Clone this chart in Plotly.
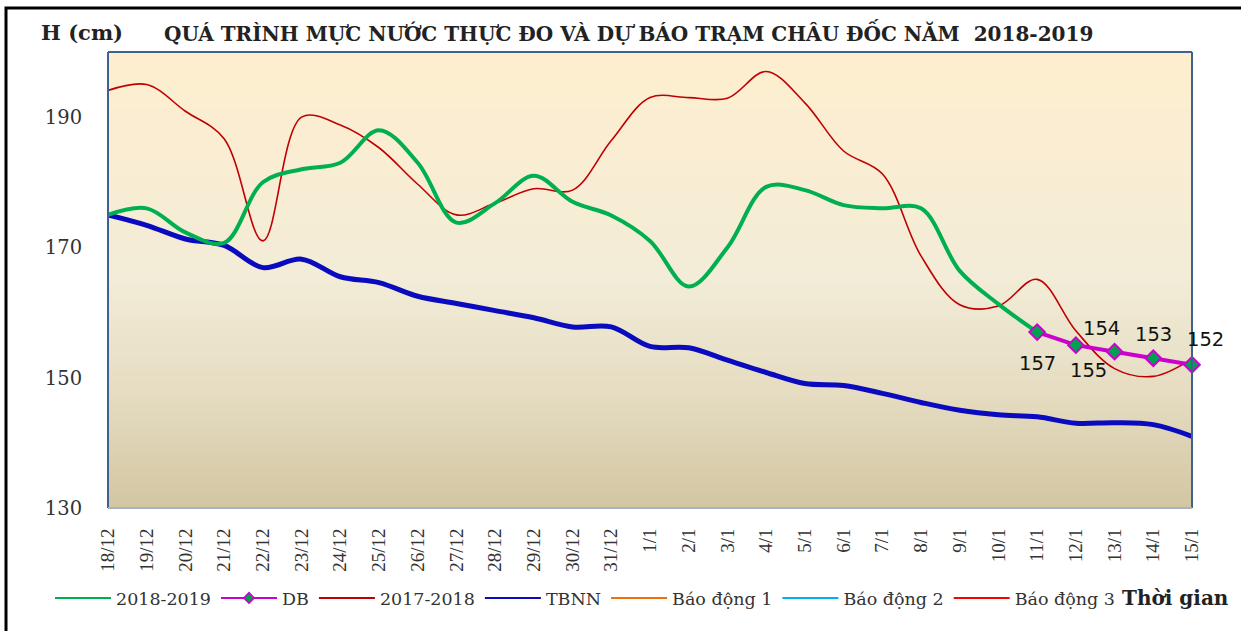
import plotly.graph_objects as go

# ---------------- data ----------------
dates = ["18/12", "19/12", "20/12", "21/12", "22/12", "23/12", "24/12", "25/12",
         "26/12", "27/12", "28/12", "29/12", "30/12", "31/12", "1/1", "2/1", "3/1",
         "4/1", "5/1", "6/1", "7/1", "8/1", "9/1", "10/1", "11/1", "12/1", "13/1",
         "14/1", "15/1"]

h_2018_2019 = [175, 176, 172.3, 170.7, 180, 182, 183, 188, 183, 173.8, 176.8, 181,
               177, 174.9, 171, 164, 170, 179.3, 178.8, 176.5, 176, 176, 166.4, 161.3, 157]

db_dates = ["11/1", "12/1", "13/1", "14/1", "15/1"]
db = [157, 155, 154, 153, 152]

h_2017_2018 = [194.1, 195, 190.9, 186.7, 171, 190, 188.8, 185.3, 179.7, 175, 176.8, 179,
               178.8, 186.4, 193, 193, 192.9, 197, 192.2, 184.8, 181.3, 168.7, 161.2,
               161, 165.1, 157.2, 151.4, 150.2, 152.9]

tbnn = [175, 173.4, 171.3, 170.3, 166.9, 168.2, 165.5, 164.6, 162.5, 161.4, 160.3,
        159.2, 157.8, 157.8, 154.8, 154.6, 152.7, 150.8, 149.1, 148.8, 147.6, 146.2,
        145, 144.3, 144, 143, 143.1, 142.8, 141]

# alarm levels (cm) - above the displayed range
bd1 = [350] * len(dates)
bd2 = [400] * len(dates)
bd3 = [450] * len(dates)

y_ticks = [130, 150, 170, 190]

# ---------------- layout geometry ----------------
W, H = 1241, 631
ML, MR, MT, MB = 108, 49, 52, 123
PW, PH = W - ML - MR, H - MT - MB


def px_x(px):
    return (px - ML) / PW


def px_y(py):
    return (H - MB - py) / PH


SERIF = "DejaVu Serif"

series = [
    # name, x, y, color, width, shape, legend width
    ("2018-2019", dates[:len(h_2018_2019)], h_2018_2019, "#00B050", 4, "spline", 2),
    ("DB", db_dates, db, "#CC00CC", 4, "linear", 2),
    ("2017-2018", dates, h_2017_2018, "#C00000", 1.6, "spline", 2),
    ("TBNN", dates, tbnn, "#0A0ABE", 5, "spline", 2),
    ("Báo động 1", dates, bd1, "#F07010", 2, "linear", 2),
    ("Báo động 2", dates, bd2, "#00B0F0", 2, "linear", 2),
    ("Báo động 3", dates, bd3, "#FF0000", 2, "linear", 2),
]

fig = go.Figure()

draw_order = [3, 2, 0, 1, 4, 5, 6]
for idx in draw_order:
    name, xs, ys, col, w, shp, lw = series[idx]
    if name == "DB":
        fig.add_trace(go.Scatter(x=xs, y=ys, name=name, mode="lines+markers",
                                 line=dict(color=col, width=w), legendgroup=name, showlegend=False,
                                 marker=dict(symbol="diamond", size=12, color="#00A050",
                                             line=dict(color=col, width=2)),
                                 cliponaxis=False))
    else:
        fig.add_trace(go.Scatter(x=xs, y=ys, name=name, mode="lines", legendgroup=name,
                                 showlegend=False, line=dict(color=col, width=w, shape=shp)))

# legend entries (thin lines like the original legend)
for name, xs, ys, col, w, shp, lw in series:
    if name == "DB":
        fig.add_trace(go.Scatter(x=[None], y=[None], name=name, mode="lines+markers", legendgroup=name,
                                 line=dict(color=col, width=lw),
                                 marker=dict(symbol="diamond", size=8, color="#00A050",
                                             line=dict(color=col, width=1.5))))
    else:
        fig.add_trace(go.Scatter(x=[None], y=[None], name=name, mode="lines", legendgroup=name,
                                 line=dict(color=col, width=lw)))

# ---------------- background gradient ----------------
stops = [(0.0, (211, 198, 162)), (0.25, (229, 220, 193)), (0.5, (242, 236, 216)),
         (0.75, (249, 237, 211)), (1.0, (254, 238, 207))]


def col_at(t):
    for (t0, c0), (t1, c1) in zip(stops[:-1], stops[1:]):
        if t0 <= t <= t1:
            f = (t - t0) / (t1 - t0)
            return "rgb(%d,%d,%d)" % tuple(round(a + (b - a) * f) for a, b in zip(c0, c1))
    return "rgb(%d,%d,%d)" % stops[-1][1]


shapes = []
N = 90
for k in range(N):
    t0, t1 = k / N, (k + 1) / N
    shapes.append(dict(type="rect", xref="paper", yref="paper", x0=0, x1=1, y0=t0, y1=t1 + 0.002,
                       fillcolor=col_at((t0 + t1) / 2), line=dict(width=0), layer="below"))

# plot borders
border = "#3D6290"
shapes += [
    dict(type="line", xref="paper", yref="paper", x0=0, x1=0, y0=0, y1=1, line=dict(color=border, width=2)),
    dict(type="line", xref="paper", yref="paper", x0=1, x1=1, y0=0, y1=1, line=dict(color=border, width=2)),
    dict(type="line", xref="paper", yref="paper", x0=0, x1=1, y0=1, y1=1, line=dict(color=border, width=2)),
    dict(type="line", xref="paper", yref="paper", x0=0, x1=1, y0=0, y1=0, line=dict(color="#A8B4C4", width=2)),
]
# outer black frame
shapes.append(dict(type="rect", xref="paper", yref="paper", x0=px_x(6), x1=px_x(1245),
                   y0=px_y(640), y1=px_y(8), line=dict(color="black", width=3),
                   fillcolor="rgba(0,0,0,0)", layer="above"))

# ---------------- annotations ----------------
label_shift = [(0, -31), (13, -25), (-13, 23), (0, 24), (13, 25)]
annotations = []
for d, v, (sx, sy) in zip(db_dates, db, label_shift):
    annotations.append(dict(x=d, y=v, xref="x", yref="y", text=str(v), showarrow=False,
                            xshift=sx, yshift=sy,
                            font=dict(family="DejaVu Sans", size=19.5, color="#111111")))

annotations.append(dict(x=px_x(39), y=px_y(32), xref="paper", yref="paper", text="<b>H (cm)</b>",
                        showarrow=False, xanchor="left", yanchor="middle",
                        font=dict(family=SERIF, size=21, color="#222222")))
annotations.append(dict(x=px_x(162), y=px_y(32), xref="paper", yref="paper",
                        text="<b>QUÁ TRÌNH MỰC NƯỚC THỰC ĐO VÀ DỰ BÁO TRẠM CHÂU ĐỐC NĂM  2018-2019</b>",
                        showarrow=False, xanchor="left", yanchor="middle",
                        font=dict(family=SERIF, size=20, color="#222222")))
annotations.append(dict(x=px_x(1120), y=px_y(598), xref="paper", yref="paper", text="<b>Thời gian</b>",
                        showarrow=False, xanchor="left", yanchor="middle",
                        font=dict(family=SERIF, size=20, color="#222222")))

fig.update_layout(
    width=W, height=H,
    margin=dict(l=ML, r=MR, t=MT, b=MB),
    paper_bgcolor="white", plot_bgcolor="rgba(0,0,0,0)",
    showlegend=True,
    legend=dict(orientation="h", x=px_x(50), y=px_y(598), xanchor="left", yanchor="middle",
                font=dict(family=SERIF, size=17.5, color="#333333"),
                bgcolor="rgba(0,0,0,0)", itemwidth=56, tracegroupgap=0),
    shapes=shapes,
    annotations=annotations,
    xaxis=dict(type="category", categoryorder="array", categoryarray=dates,
               range=[0, len(dates) - 1], tickangle=-90, showgrid=False, zeroline=False,
               showline=False, ticks="outside", ticklen=12, tickcolor="rgba(0,0,0,0)",
               tickfont=dict(family="Liberation Serif", size=19, color="#333333")),
    yaxis=dict(range=[130, 200], tickvals=y_ticks, showgrid=False, zeroline=False,
               showline=False, ticks="outside", ticklen=21, tickcolor="rgba(0,0,0,0)",
               tickfont=dict(family=SERIF, size=19.5, color="#333333")),
)

fig.write_html("out.html", config={"displayModeBar": False},
               post_script="document.body.style.margin='0px';document.body.style.overflow='hidden';")
